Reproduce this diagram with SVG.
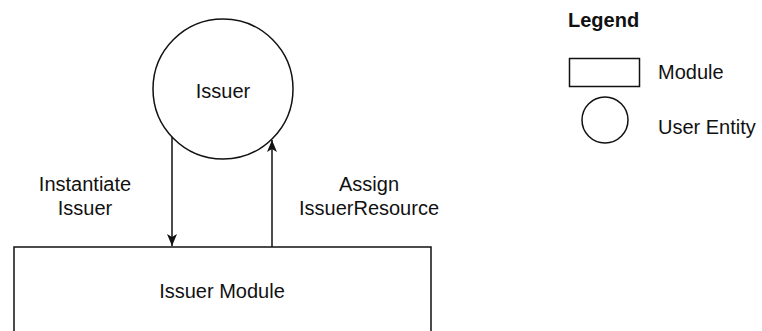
<svg xmlns="http://www.w3.org/2000/svg" width="762" height="331" viewBox="0 0 762 331">
  <style>
    .shape { fill: #ffffff; stroke: #111111; stroke-width: 1.5; }
    .edge { fill: none; stroke: #111111; stroke-width: 1.5; }
    .label { font-family: "Liberation Sans", Arial, sans-serif; font-size: 20px; fill: #111111; }
    .mid { text-anchor: middle; }
    .title { font-weight: bold; }
  </style>
  <defs>
    <marker id="arrow" viewBox="0 0 12 12" refX="12" refY="6" markerWidth="12" markerHeight="12" markerUnits="userSpaceOnUse" orient="auto">
      <path d="M0,1 L12,6 L0,11 L3,6 Z" fill="#111111"/>
    </marker>
  </defs>
  <rect width="762" height="331" fill="#ffffff"/>

  <g id="issuer">
    <circle class="shape" cx="223" cy="89" r="70"/>
    <text class="label mid" x="223" y="98">Issuer</text>
  </g>

  <g id="issuer-module">
    <rect class="shape" x="14" y="247" width="417" height="120"/>
    <text class="label mid" x="222" y="298">Issuer Module</text>
  </g>

  <g id="connectors">
    <path class="edge" d="M172,137 L172,246" marker-end="url(#arrow)"/>
    <path class="edge" d="M272,247 L272,140" marker-end="url(#arrow)"/>
    <text class="label mid" x="85" y="191">Instantiate</text>
    <text class="label mid" x="85" y="215">Issuer</text>
    <text class="label mid" x="369" y="191">Assign</text>
    <text class="label mid" x="369" y="215">IssuerResource</text>
  </g>

  <g id="legend">
    <text class="label title" x="568" y="27">Legend</text>
    <rect class="shape" x="569.5" y="58.5" width="70" height="28"/>
    <text class="label" x="658" y="79">Module</text>
    <circle class="shape" cx="605" cy="120" r="23"/>
    <text class="label" x="658" y="134">User Entity</text>
  </g>
</svg>
